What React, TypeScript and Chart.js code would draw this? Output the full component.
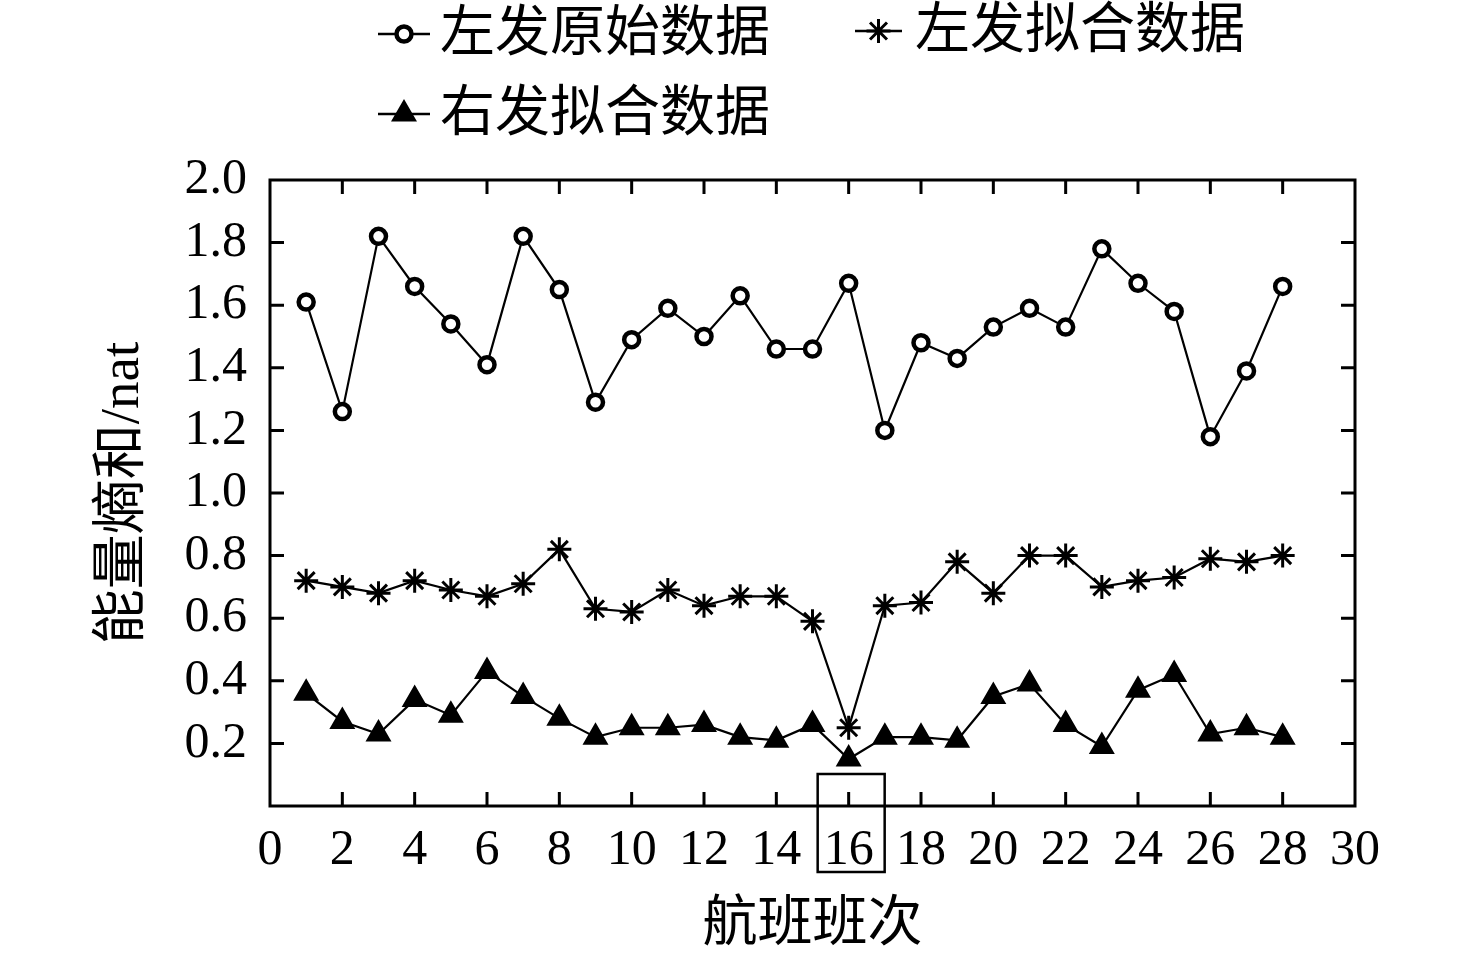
import React, { useEffect, useRef } from "react";
import { Chart, registerables } from "chart.js";
import { drawPoint } from "chart.js/helpers";

Chart.register(...registerables);

// flight number (x) and the three series
const flights = [
  1, 2, 3, 4, 5, 6, 7, 8, 9, 10, 11, 12, 13, 14, 15, 16, 17, 18, 19, 20, 21,
  22, 23, 24, 25, 26, 27, 28,
];
const leftRaw = [
  1.61, 1.26, 1.82, 1.66, 1.54, 1.41, 1.82, 1.65, 1.29, 1.49, 1.59, 1.5, 1.63,
  1.46, 1.46, 1.67, 1.2, 1.48, 1.43, 1.53, 1.59, 1.53, 1.78, 1.67, 1.58, 1.18,
  1.39, 1.66,
];
const leftFit = [
  0.72, 0.7, 0.68, 0.72, 0.69, 0.67, 0.71, 0.82, 0.63, 0.62, 0.69, 0.64, 0.67,
  0.67, 0.59, 0.25, 0.64, 0.65, 0.78, 0.68, 0.8, 0.8, 0.7, 0.72, 0.73, 0.79,
  0.78, 0.8,
];
const rightFit = [
  0.36, 0.27, 0.23, 0.34, 0.29, 0.43, 0.35, 0.28, 0.22, 0.25, 0.25, 0.26, 0.22,
  0.21, 0.26, 0.15, 0.22, 0.22, 0.21, 0.35, 0.39, 0.26, 0.19, 0.37, 0.42, 0.23,
  0.25, 0.22,
];
const seriesNames = ["左发原始数据", "左发拟合数据", "右发拟合数据"];
const xTitle = "航班班次";
const yTitle = "能量熵和/nat";

const FONT = '"Liberation Serif", "Times New Roman", "Noto Sans CJK SC", serif';

const toPoints = (ys: number[]) => flights.map((x, i) => ({ x, y: ys[i] }));

// frame with inward ticks, boxed "16" label and the two-row legend
const framePlugin = {
  id: "frame",
  afterDraw(chart: any) {
    const { ctx, chartArea: a, scales } = chart;
    const xs = scales.x;
    const ys = scales.y;
    ctx.save();
    ctx.strokeStyle = "#000";
    ctx.lineWidth = 3;
    ctx.strokeRect(a.left, a.top, a.right - a.left, a.bottom - a.top);

    ctx.beginPath();
    xs.ticks.forEach((t: any) => {
      if (t.value <= xs.min || t.value >= xs.max) return;
      const px = xs.getPixelForValue(t.value);
      ctx.moveTo(px, a.bottom);
      ctx.lineTo(px, a.bottom - 14);
      ctx.moveTo(px, a.top);
      ctx.lineTo(px, a.top + 14);
    });
    ys.ticks.forEach((t: any) => {
      if (t.value <= ys.min + 1e-9 || t.value >= ys.max - 1e-9) return;
      const py = ys.getPixelForValue(t.value);
      ctx.moveTo(a.left, py);
      ctx.lineTo(a.left + 14, py);
      ctx.moveTo(a.right, py);
      ctx.lineTo(a.right - 14, py);
    });
    ctx.stroke();

    // highlight box round the 16 tick label
    const p16 = xs.getPixelForValue(16);
    ctx.lineWidth = 2.5;
    ctx.strokeRect(p16 - 31, a.bottom - 32, 67, 98);

    // legend
    const items = [
      { ds: 0, x0: 378, x1: 430, y: 34, tx: 440 },
      { ds: 1, x0: 855, x1: 902, y: 31, tx: 915 },
      { ds: 2, x0: 378, x1: 430, y: 114, tx: 440 },
    ];
    ctx.font = `55px ${FONT}`;
    ctx.textBaseline = "middle";
    ctx.textAlign = "left";
    items.forEach((it) => {
      const d = chart.data.datasets[it.ds];
      ctx.strokeStyle = "#000";
      ctx.lineWidth = 2.5;
      ctx.beginPath();
      ctx.moveTo(it.x0, it.y);
      ctx.lineTo(it.x1, it.y);
      ctx.stroke();
      ctx.fillStyle = d.pointBackgroundColor;
      ctx.strokeStyle = "#000";
      ctx.lineWidth = d.pointBorderWidth;
      drawPoint(
        ctx,
        { pointStyle: d.pointStyle, radius: d.pointRadius, rotation: 0, borderWidth: d.pointBorderWidth },
        (it.x0 + it.x1) / 2,
        it.y,
      );
      ctx.fillStyle = "#000";
      ctx.fillText(d.label, it.tx, it.y + 2);
    });
    ctx.restore();
  },
};

export default function App() {
  const canvasRef = useRef<HTMLCanvasElement>(null);

  useEffect(() => {
    if (!canvasRef.current) return;
    const common = {
      borderColor: "#000",
      borderWidth: 2.2,
      pointBorderColor: "#000",
      showLine: true,
      tension: 0,
    };
    const chart = new Chart(canvasRef.current, {
      type: "line",
      data: {
        datasets: [
          {
            ...common,
            label: seriesNames[0],
            data: toPoints(leftRaw),
            pointStyle: "circle",
            pointRadius: 7.5,
            pointBorderWidth: 4.5,
            pointBackgroundColor: "#fff",
          },
          {
            ...common,
            label: seriesNames[1],
            data: toPoints(leftFit),
            pointStyle: "star",
            pointRadius: 12,
            pointBorderWidth: 3,
            pointBackgroundColor: "#000",
          },
          {
            ...common,
            label: seriesNames[2],
            data: toPoints(rightFit),
            pointStyle: "triangle",
            pointRadius: 13,
            pointBorderWidth: 2,
            pointBackgroundColor: "#000",
          },
        ] as any,
      },
      options: {
        responsive: true,
        maintainAspectRatio: false,
        animation: false,
        layout: { padding: { top: 180, right: 121, left: 0, bottom: 0 } },
        plugins: {
          legend: { display: false },
          tooltip: { enabled: false },
        },
        scales: {
          x: {
            type: "linear",
            min: 0,
            max: 30,
            afterFit: (s: any) => {
              s.height = 157;
            },
            ticks: {
              stepSize: 2,
              color: "#000",
              padding: 7,
              maxRotation: 0,
              autoSkip: false,
              font: { family: FONT, size: 50 },
            },
            grid: { display: false },
            border: { display: false },
            title: {
              display: true,
              text: xTitle,
              color: "#000",
              font: { family: FONT, size: 55 },
              padding: { top: 0, bottom: 4 },
            },
          },
          y: {
            min: 0,
            max: 2,
            afterFit: (s: any) => {
              s.width = 270;
            },
            ticks: {
              stepSize: 0.2,
              autoSkip: false,
              color: "#000",
              padding: 15,
              font: { family: FONT, size: 50 },
              callback: (v: any) => (Math.abs(v) < 1e-9 ? "" : Number(v).toFixed(1)),
            },
            grid: { display: false },
            border: { display: false },
            title: {
              display: true,
              text: yTitle,
              color: "#000",
              font: { family: FONT, size: 55 },
              padding: { top: 91, bottom: 0 },
            },
          },
        },
      } as any,
      plugins: [framePlugin],
    });
    return () => chart.destroy();
  }, []);

  return (
    <div
      style={{
        position: "fixed",
        left: 0,
        top: 0,
        width: 1476,
        height: 963,
        background: "#fff",
      }}
    >
      <canvas ref={canvasRef} />
    </div>
  );
}
